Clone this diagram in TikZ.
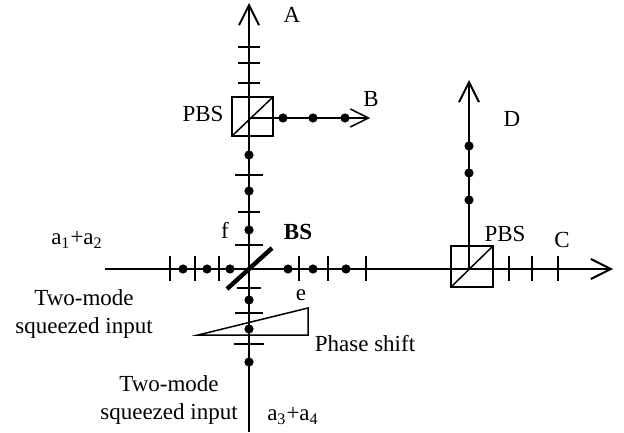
\documentclass[tikz,border=0pt]{standalone}
\usepackage{fontspec}
\setmainfont{Liberation Serif}
\usetikzlibrary{arrows.meta}
\tikzset{
  beam/.style={line width=0.95pt},
  wire/.style={line width=0.75pt},
  label/.style={inner sep=0pt, font=\fontsize{11.5}{14}\selectfont},
  barb/.style={-{Straight Barb[length=10pt,width=10pt,line width=1pt]}},
}
\newcommand{\phot}[1]{\fill #1 circle (2.3pt);}
\begin{document}
\begin{tikzpicture}[x=0.5pt, y=-0.5pt]
\useasboundingbox (0,0) rectangle (624,432);

% beams
\draw[beam, barb] (249,432) -- (249,3);
\draw[wire, barb] (105,269) -- (613,269);
\draw[beam, barb] (469,269) -- (469,80);
\draw[wire, -{Straight Barb[length=9pt,width=9pt,line width=0.75pt]}] (249,118) -- (370,118);

% ticks on the vertical beam
\foreach \y/\w in {47/11, 63/11, 83/11, 175/14, 212/11, 245/14, 288/12, 313/14, 344/15} {
  \draw[wire] (249-\w,\y) -- (249+\w,\y);
}
% ticks on the horizontal beam
\foreach \x in {170, 195, 219, 299, 328, 366, 509, 532, 558} {
  \draw[wire] (\x,256) -- (\x,281);
}
% photons
\foreach \y in {155, 191, 230, 300, 329, 362} { \phot{(249,\y)} }
\foreach \x in {183, 207, 230, 288, 313, 346} { \phot{(\x,269)} }
\foreach \x in {283, 313, 345} { \phot{(\x,118)} }
\foreach \y in {146, 173, 200} { \phot{(469,\y)} }

% beam splitters
\draw[wire] (232,97) rectangle (273,136);
\draw[wire] (232,136) -- (273,97);
\draw[wire] (451,246) rectangle (493,287);
\draw[wire] (451,287) -- (493,246);
\draw[line width=2.2pt] (227,289) -- (272,248);

% phase wedge
\draw[wire] (198,335) -- (308,335) -- (308,308) -- cycle;

\node[label] (a) at (292,15) {A};
\node[label] (b) at (371,99) {B};
\node[label] (c) at (562,240) {C};
\node[label] (d) at (512,119) {D};
\node[label] (e) at (301,295) {e};
\node[label] (f) at (225,230) {f};
\node[label] (pbsa) at (203,114) {PBS};
\node[label] (pbsb) at (505,234) {PBS};
\node[label] (bs) at (298,232) {\textbf{BS}};
\node[label] (ain) at (77,240) {a\textsubscript{1}+a\textsubscript{2}};
\node[label] (cin) at (293,416) {a\textsubscript{3}+a\textsubscript{4}};
\node[label] (shift) at (365,344) {Phase shift};
\node[label, align=center] (inone) at (84,314) {Two-mode\\squeezed input};
\node[label, align=center] (intwo) at (169,400) {Two-mode\\squeezed input};
\end{tikzpicture}
\end{document}
